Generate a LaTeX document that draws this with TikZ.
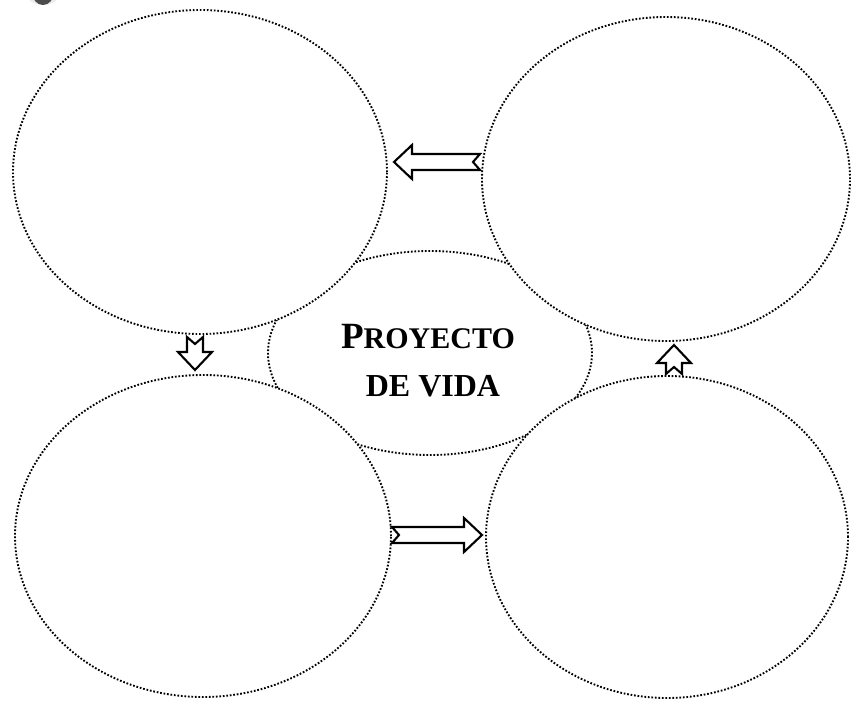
\documentclass[tikz,border=0pt]{standalone}
\usepackage{fontspec}
\setmainfont{Liberation Serif}
\usetikzlibrary{shapes.geometric,calc}
\tikzset{
  bubble/.style={ellipse, draw=black, fill=white, line width=1.9pt,
    dash pattern=on 1.7pt off 1.8pt, inner sep=0pt, outer sep=0pt},
  blockarrow/.style={draw=black, fill=white, line width=2.1pt, line join=miter},
  titletext/.style={anchor=base, inner sep=0pt, font=\bfseries\fontsize{30}{36}\selectfont},
}
\newcommand\bigletter[1]{{\fontsize{37}{40}\selectfont #1}}
\newcommand\barrow[2]{%
  \path[blockarrow] let \p1=(#1), \p2=(#2),
    \n1={atan2(\y2-\y1,\x2-\x1)}, \n2={veclen(\x2-\x1,\y2-\y1)} in
    [shift={(\p1)}, rotate=\n1]
    (0,8) -- ({\n2-18},8) -- ({\n2-18},17) -- (\n2,0) -- ({\n2-18},-17)
    -- ({\n2-18},-8) -- (0,-8) -- (7,0) -- cycle;}
\begin{document}
\begin{tikzpicture}[x=1pt,y=-1pt]
\useasboundingbox (0,0) rectangle (852,701);
\fill[white] (0,0) rectangle (852,701);
% small grey blot at the top-left corner
\fill[gray!15] (43,-9) ellipse (18 and 14);
\fill[black!70] (43,-8) ellipse (11 and 13);
% centre bubble (drawn first, partly covered)
\node[bubble, minimum width=324, minimum height=204] (c) at (430,353) {};
% the four outer bubbles
\node[bubble, minimum width=374, minimum height=324] (tl) at (200,172) {};
\node[bubble, minimum width=368, minimum height=324] (tr) at (666,179) {};
\node[bubble, minimum width=376, minimum height=322] (bl) at (203,536) {};
\node[bubble, minimum width=362, minimum height=322] (br) at (667,537) {};
% title
\node[titletext] (t1) at (428,348) {\bigletter{P}ROYECTO};
\node[titletext, font=\bfseries\fontsize{32}{36}\selectfont] (t2) at (433,396) {DE VIDA};
% arrow end points
\coordinate (a1s) at (480,162); \coordinate (a1e) at (394,162);
\coordinate (a2s) at (195,337); \coordinate (a2e) at (195,370);
\coordinate (a3s) at (674,374); \coordinate (a3e) at (674,345);
\coordinate (a4s) at (392,535); \coordinate (a4e) at (482,535);
\barrow{a1s}{a1e}
\barrow{a2s}{a2e}
\barrow{a3s}{a3e}
\barrow{a4s}{a4e}
\end{tikzpicture}
\end{document}
